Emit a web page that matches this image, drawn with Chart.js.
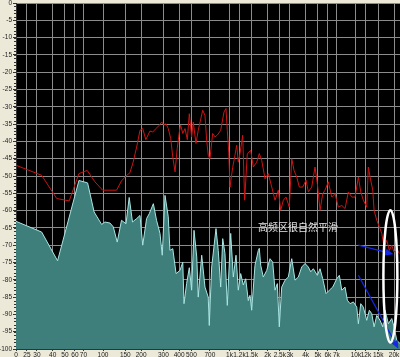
<!DOCTYPE html>
<html>
<head>
<meta charset="utf-8">
<script src="https://cdn.jsdelivr.net/npm/chart.js@4/dist/chart.umd.min.js"></script>
<style>
  html, body { margin: 0; padding: 0; background: #ECE9D8; }
  #wrap { width: 400px; height: 357px; position: relative; }
</style>
</head>
<body>
<div id="wrap"><canvas id="c" width="400" height="357"></canvas></div>
<script>
// ---- data (frequency in Hz, level in dB) ----
const tealHz = [20.5, 32.7, 43.7, 64.5, 75.5, 85, 97.5, 103.5, 113.5, 120.5, 129.5, 140, 152, 161, 171, 184.5, 196, 206, 221, 232, 250, 265, 282, 294, 309, 328, 338, 356, 378, 406, 427, 437, 458, 481, 502, 524, 551, 566, 603, 640, 679, 692, 723, 782, 815, 852, 884, 921, 961, 1022, 1072, 1126, 1174, 1226, 1286, 1343, 1408, 1452, 1498, 1591, 1690, 1721, 1765, 1851, 1969, 2091, 2197, 2291, 2389, 2477, 2588, 2749, 2919, 3106, 3298, 3502, 3726, 3956, 4201, 4389, 4603, 4950, 5200, 5462, 5800, 6161, 6554, 7049, 7391, 7722, 8200, 8551, 8981, 9537, 10150, 10450, 10910, 11440, 12170, 12760, 13340, 13910, 14610, 15510, 16290, 16990, 18050, 19200, 20020, 21030, 22300];
const tealDb = [-63.1, -66.2, -74.5, -51.3, -52, -60.4, -64, -63.3, -63.6, -64.7, -69.1, -62.8, -63.8, -56.2, -63.3, -62.3, -61.4, -70, -62.3, -60.9, -58, -62.8, -66.6, -72.9, -55.6, -61.8, -71.5, -71, -78.2, -77.3, -74.9, -86.9, -81.1, -76.5, -83, -65.7, -73.4, -85, -72.9, -82.1, -85, -93.2, -76.3, -65.2, -71.5, -82.1, -68.1, -72.4, -87.4, -66.6, -79.2, -72.9, -83, -78.2, -81.5, -79.7, -86, -84.5, -88.8, -75.8, -71.5, -70.9, -75.8, -79.2, -77.3, -73.9, -74.9, -83, -81.1, -93.6, -82.1, -80.1, -79.2, -73.9, -80.1, -79.2, -76.3, -75.3, -76.3, -77.7, -76.8, -78.7, -76.8, -79.7, -84, -83, -82.1, -79.7, -78.7, -83, -82.1, -85.9, -86.9, -86.4, -87.9, -92.7, -86.9, -87.9, -91.7, -88.8, -89.8, -93.6, -90.3, -91.7, -93.6, -88.8, -92.7, -91.2, -93.6, -97.5, -98.4];

const redHz = [20.5, 32.7, 43, 54, 64.5, 75, 86.3, 99.3, 113.5, 128, 140, 154, 163, 173, 184.5, 196, 206, 218, 235, 247, 262, 279, 291, 303, 315, 328, 343, 356, 371, 386, 401, 411, 427, 445, 464, 481, 502, 517, 543, 566, 614, 640, 660, 679, 701, 736, 768, 801, 852, 905, 938, 961, 986, 1009, 1060, 1105, 1140, 1174, 1211, 1272, 1318, 1383, 1471, 1543, 1641, 1721, 1798, 1910, 2028, 2158, 2291, 2433, 2542, 2665, 2799, 2972, 3106, 3239, 3402, 3567, 3794, 4029, 4201, 4469, 4747, 4950, 5200, 5462, 5694, 6048, 6435, 6834, 7258, 7722, 8200, 8708, 9264, 9838, 10450, 10910, 11440, 12170, 12530, 12930, 13580, 13910, 14610, 15310, 16000, 16690, 17520, 18380, 19200, 20020, 21030, 22040];
const redDb = [-46.9, -49.8, -56.5, -57.2, -49.3, -48.4, -51.7, -54.1, -54.1, -54.1, -51.4, -49.8, -49.1, -46, -41.6, -36.8, -36.3, -39.5, -37, -37.3, -36.3, -35.3, -34.4, -35.3, -34.9, -36.3, -39.2, -44.5, -48.8, -42.1, -37.3, -35.3, -37.7, -36.3, -39.5, -32, -38.7, -34.4, -40.6, -36.8, -31, -32.5, -39.7, -44, -45, -37.7, -38.7, -38.2, -36.8, -31.5, -30.5, -36.8, -43.1, -53.2, -47.5, -44, -41.1, -46, -43.5, -38.2, -57, -43.5, -42.6, -47.4, -46, -43.5, -45.5, -50.8, -49.3, -53.2, -57, -54.1, -59.9, -57, -56.1, -59, -45, -48.4, -50.3, -53.2, -53.2, -51.2, -54.6, -53.2, -47.4, -52.2, -59.9, -55.1, -54.1, -51.7, -56.1, -55.1, -59, -58.5, -59.4, -54.6, -56.1, -56.1, -50.3, -54.6, -57, -59, -47.4, -50.3, -54.1, -59.9, -62.8, -64.7, -66.6, -70.5, -68.6, -71.5, -70, -72, -71, -72.4];

const xTickHz = [20.5, 25, 30, 40, 50, 60, 70, 100, 150, 200, 300, 400, 500, 700, 1000, 1200, 1500, 2000, 2500, 3000, 4000, 5000, 6000, 7000, 10000, 12000, 15000, 20000];
const xTickLabels = ['0', '25', '30', '40', '50', '60', '70', '100', '150', '200', '300', '400', '500', '700', '1k', '1.2k', '1.5k', '2k', '2.5k', '3k', '4k', '5k', '6k', '7k', '10k', '12k', '15k', '20k'];
const yMin = -100, yMax = 0, yStep = 5;

// ---- annotation (in data coordinates) ----
const noteText = '高频区很自然平滑';
const notePos = { hz: 3480, db: -64.8 };
const ellipseBox = { hzMin: 16480, hzMax: 21260, dbMin: -98.1, dbMax: -59.9 };
const arrows = [
  { from: { hz: 10450, db: -70.0 }, to: { hz: 19760, db: -72.6 } },
  { from: { hz: 10450, db: -78.7 }, to: { hz: 21650, db: -99.9 } }
];

const toPts = (hz, db) => hz.map((h, i) => ({ x: h, y: db[i] }));

const decor = {
  id: 'decor',
  beforeDraw(chart) {
    const { ctx, chartArea: a } = chart;
    ctx.save();
    ctx.fillStyle = '#ECE9D8';
    ctx.fillRect(0, 0, chart.width, chart.height);
    ctx.fillStyle = '#000000';
    ctx.fillRect(a.left, a.top, a.right - a.left, a.bottom - a.top);
    ctx.restore();
  },
  afterDraw(chart) {
    const { ctx, chartArea: a } = chart;
    const xs = chart.scales.x, ys = chart.scales.y;
    ctx.save();
    // minor ticks on y axis
    ctx.strokeStyle = '#333';
    ctx.lineWidth = 1;
    for (let v = yMin; v <= yMax; v += 1) {
      const y = Math.round(ys.getPixelForValue(v)) + 0.5;
      ctx.beginPath();
      ctx.moveTo(a.left - 2, y);
      ctx.lineTo(a.left, y);
      ctx.stroke();
    }
    // text
    ctx.fillStyle = '#E6E6E6';
    ctx.font = '10px "Noto Sans CJK SC", sans-serif';
    ctx.textAlign = 'center';
    ctx.textBaseline = 'middle';
    ctx.fillText(noteText, xs.getPixelForValue(notePos.hz), ys.getPixelForValue(notePos.db));
    // arrows
    ctx.strokeStyle = '#1428E6';
    ctx.fillStyle = '#1428E6';
    ctx.lineWidth = 1.2;
    arrows.forEach(ar => {
      const x1 = xs.getPixelForValue(ar.from.hz), y1 = ys.getPixelForValue(ar.from.db);
      const x2 = xs.getPixelForValue(ar.to.hz), y2 = ys.getPixelForValue(ar.to.db);
      const ang = Math.atan2(y2 - y1, x2 - x1);
      const L = 8, W = 3.5;
      ctx.beginPath();
      ctx.moveTo(x1, y1);
      ctx.lineTo(x2 - L * Math.cos(ang), y2 - L * Math.sin(ang));
      ctx.stroke();
      ctx.beginPath();
      ctx.moveTo(x2, y2);
      ctx.lineTo(x2 - L * Math.cos(ang) + W * Math.sin(ang), y2 - L * Math.sin(ang) - W * Math.cos(ang));
      ctx.lineTo(x2 - L * Math.cos(ang) - W * Math.sin(ang), y2 - L * Math.sin(ang) + W * Math.cos(ang));
      ctx.closePath();
      ctx.fill();
    });
    // ellipse
    const ex1 = xs.getPixelForValue(ellipseBox.hzMin), ex2 = xs.getPixelForValue(ellipseBox.hzMax);
    const ey1 = ys.getPixelForValue(ellipseBox.dbMax), ey2 = ys.getPixelForValue(ellipseBox.dbMin);
    ctx.strokeStyle = '#FFFFFF';
    ctx.lineWidth = 2.5;
    ctx.beginPath();
    ctx.ellipse((ex1 + ex2) / 2, (ey1 + ey2) / 2, (ex2 - ex1) / 2, (ey2 - ey1) / 2, 0, 0, Math.PI * 2);
    ctx.stroke();
    ctx.restore();
  }
};

new Chart(document.getElementById('c'), {
  type: 'line',
  data: {
    datasets: [
      {
        label: 'spectrum',
        data: toPts(tealHz, tealDb),
        borderColor: '#A8E6E3',
        backgroundColor: '#3E7E7B',
        borderWidth: 1,
        fill: 'start',
        pointRadius: 0,
        tension: 0
      },
      {
        label: 'reference',
        data: toPts(redHz, redDb),
        borderColor: '#CC1414',
        borderWidth: 1,
        fill: false,
        pointRadius: 0,
        tension: 0
      }
    ]
  },
  options: {
    responsive: false,
    animation: false,
    events: [],
    layout: { padding: { top: 3, left: 0, right: 0, bottom: 0 } },
    plugins: { legend: { display: false }, tooltip: { enabled: false } },
    scales: {
      x: {
        type: 'logarithmic',
        min: xTickHz[0],
        max: 22300,
        afterBuildTicks(scale) { scale.ticks = xTickHz.map(v => ({ value: v })); },
        afterFit(scale) { scale.height = 8; scale.paddingLeft = 0; scale.paddingRight = 0; },
        ticks: {
          autoSkip: false, maxRotation: 0, minRotation: 0, padding: 0,
          color: '#222', font: { family: 'Liberation Sans', size: 6.5 },
          callback: (v, i) => xTickLabels[i]
        },
        grid: { color: '#8C8C8C', lineWidth: 1, tickLength: 2, tickColor: '#333' },
        border: { color: '#333' }
      },
      y: {
        type: 'linear',
        min: yMin,
        max: yMax,
        afterFit(scale) { scale.width = 16; scale.paddingTop = 0; scale.paddingBottom = 0; },
        ticks: {
          stepSize: yStep, padding: 1,
          color: '#222', font: { family: 'Liberation Sans', size: 6.5 }
        },
        grid: { color: '#8C8C8C', lineWidth: 1, tickLength: 3, tickColor: '#333' },
        border: { color: '#333' }
      }
    }
  },
  plugins: [decor]
});
</script>
</body>
</html>
